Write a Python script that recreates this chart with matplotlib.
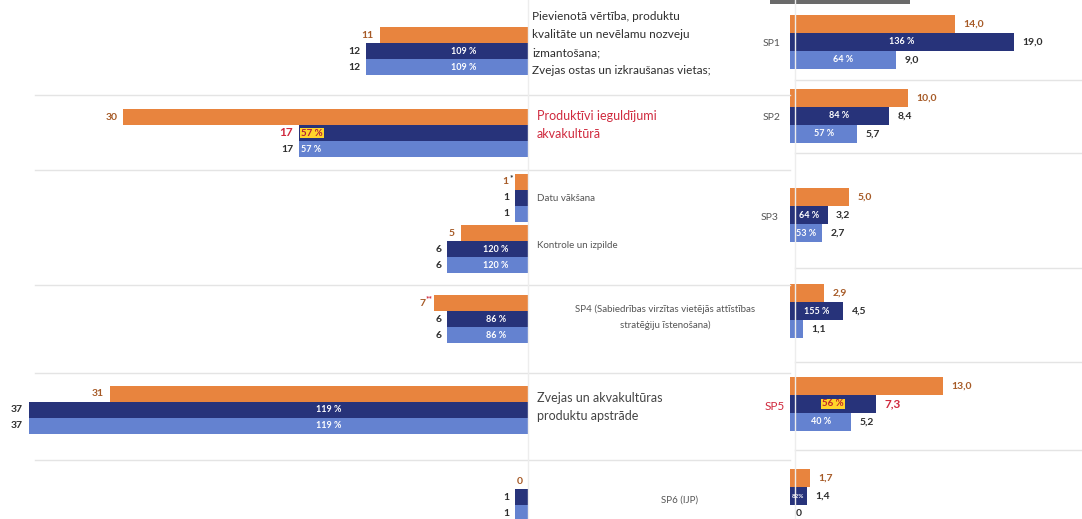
import matplotlib
matplotlib.use('Agg')
import matplotlib.pyplot as plt
from matplotlib.lines import Line2D
from matplotlib.patches import Rectangle

plt.rcParams['font.family'] = ['Lato', 'DejaVu Sans']

W, H = 1082, 519

# left panel (counts)
left_orange = [11, 30, 1, 5, 7, 31, 0]
left_dark = [12, 17, 1, 6, 6, 37, 1]
left_light = [12, 17, 1, 6, 6, 37, 1]
left_pct = ['109 %', '57 %', '', '120 %', '86 %', '119 %', '']
left_tag = ['', '', '*', '', '**', '', '']

# right panel (values)
right_groups = ['SP1', 'SP2', 'SP3', 'SP4', 'SP5', 'SP6']
right_orange = [14.0, 10.0, 5.0, 2.9, 13.0, 1.7]
right_dark = [19.0, 8.4, 3.2, 4.5, 7.3, 1.4]
right_light = [9.0, 5.7, 2.7, 1.1, 5.2, 0]
right_dark_pct = ['136 %', '84 %', '64 %', '155 %', '56 %', '82%']
right_light_pct = ['64 %', '57 %', '53 %', '', '40 %', '']

ORANGE = '#E8843E'
DARK = '#27337A'
LIGHT = '#6482D0'
OLAB = '#A65A26'
TXT = '#2E2E2E'
RED = '#D02A3E'
YEL = '#FFD42A'

# layout (pixel rows, from top)
left_y = [51, 133, 198, 249, 319, 410, 497]
right_y = [42, 116, 215, 311, 404, 496]
lh, rh = 16, 18

fig = plt.figure(figsize=(W / 100, H / 100), dpi=100)
fig.patch.set_facecolor('white')


def fx(x):
    return x / W


def fy(y):
    return 1 - y / H


# separators
for y in [95, 170, 285, 373, 460]:
    fig.add_artist(Line2D([fx(35), fx(790)], [fy(y), fy(y)], color='#E4E4E4', lw=1))
for y in [80, 153, 268, 362, 450]:
    fig.add_artist(Line2D([fx(795), fx(1082)], [fy(y), fy(y)], color='#E4E4E4', lw=1))
for x in [528, 795]:
    fig.add_artist(Line2D([fx(x), fx(x)], [0, 1], color='#EDEDED', lw=1))
fig.add_artist(Rectangle((fx(770), fy(4)), fx(140), 4 / H, color='#6A6A6A', lw=0))

axL = fig.add_axes([0, 0, 528 / W, 1])
axL.set_xlim(528 / 13.5, 0)
axL.set_ylim(H, 0)
axL.axis('off')

for i, y in enumerate(left_y):
    yo, yd, yl = y - lh, y, y + lh
    axL.barh(yo, left_orange[i], height=lh, color=ORANGE)
    axL.barh(yd, left_dark[i], height=lh, color=DARK)
    axL.barh(yl, left_light[i], height=lh, color=LIGHT)
    shift = {'': -4, '*': -4.5, '**': -6}[left_tag[i]]
    axL.annotate(str(left_orange[i]), (left_orange[i], yo), xytext=(shift, 0),
                 textcoords='offset points', ha='right', va='center',
                 fontsize=7.5, fontweight='bold', color=OLAB)
    if left_tag[i]:
        axL.annotate(left_tag[i], (left_orange[i], yo), xytext=(-1, 3),
                     textcoords='offset points', ha='right', va='center',
                     fontsize=6, fontweight='bold',
                     color=RED if left_tag[i] == '**' else TXT)
    axL.annotate(str(left_dark[i]), (left_dark[i], yd), xytext=(-4, 0),
                 textcoords='offset points', ha='right', va='center',
                 fontsize=7.5 if i != 1 else 8.5, fontweight='bold',
                 color=RED if i == 1 else TXT)
    axL.annotate(str(left_light[i]), (left_light[i], yl), xytext=(-4, 0),
                 textcoords='offset points', ha='right', va='center',
                 fontsize=7.5, fontweight='bold', color=TXT)
    if left_pct[i]:
        if i == 1:
            axL.annotate(left_pct[i], (left_dark[i], yd), xytext=(2, 0),
                         textcoords='offset points', ha='left', va='center',
                         fontsize=7, fontweight='bold', color='#B0203A',
                         bbox=dict(boxstyle='square,pad=0.1', fc=YEL, ec='none'))
            axL.annotate(left_pct[i], (left_light[i], yl), xytext=(2, 0),
                         textcoords='offset points', ha='left', va='center',
                         fontsize=6.5, fontweight='bold', color='white')
        else:
            axL.text(left_dark[i] * 0.4, yd, left_pct[i], ha='center', va='center',
                     fontsize=6.5, fontweight='bold', color='white')
            axL.text(left_light[i] * 0.4, yl, left_pct[i], ha='center', va='center',
                     fontsize=6.5, fontweight='bold', color='white')

axR = fig.add_axes([790 / W, 0, 292 / W, 1])
axR.set_xlim(0, 292 / 11.8)
axR.set_ylim(H, 0)
axR.axis('off')


def fmt(v):
    return '0' if v == 0 else f'{v:.1f}'.replace('.', ',')


for i, y in enumerate(right_y):
    yo, yd, yl = y - rh, y, y + rh
    axR.barh(yo, right_orange[i], height=rh, color=ORANGE)
    axR.barh(yd, right_dark[i], height=rh, color=DARK)
    axR.barh(yl, right_light[i], height=rh, color=LIGHT)
    axR.annotate(fmt(right_orange[i]), (right_orange[i], yo), xytext=(6, 0),
                 textcoords='offset points', ha='left', va='center',
                 fontsize=7.5, fontweight='bold', color=OLAB)
    axR.annotate(fmt(right_dark[i]), (right_dark[i], yd), xytext=(6, 0),
                 textcoords='offset points', ha='left', va='center',
                 fontsize=7.5 if i != 4 else 8.5, fontweight='bold',
                 color=RED if i == 4 else TXT)
    axR.annotate(fmt(right_light[i]), (right_light[i], yl), xytext=(6 if right_light[i] else 4, 0),
                 textcoords='offset points', ha='left', va='center',
                 fontsize=7.5, fontweight='bold', color=TXT)
    if i == 4:
        axR.text(right_dark[i] / 2, yd, right_dark_pct[i], ha='center', va='center',
                 fontsize=7, fontweight='bold', color='#C02828',
                 bbox=dict(boxstyle='square,pad=0.1', fc=YEL, ec='none'))
    else:
        axR.text(right_dark[i] / 2, yd, right_dark_pct[i], ha='center', va='center',
                 fontsize=6.5 if i != 5 else 4.5, fontweight='bold', color='white')
    if right_light_pct[i]:
        axR.text(right_light[i] / 2, yl, right_light_pct[i], ha='center', va='center',
                 fontsize=6.5, fontweight='bold', color='white')

# middle labels
mid = [
    (532, 17, 'Pievienotā vērtība, produktu', TXT, 8.5, 'left'),
    (532, 35, 'kvalitāte un nevēlamu nozveju', TXT, 8.5, 'left'),
    (532, 53, 'izmantošana;', TXT, 8.5, 'left'),
    (532, 71, 'Zvejas ostas un izkraušanas vietas;', TXT, 8.5, 'left'),
    (537, 116, 'Produktīvi ieguldījumi', RED, 9, 'left'),
    (537, 134, 'akvakultūrā', RED, 9, 'left'),
    (537, 199, 'Datu vākšana', '#555555', 7, 'left'),
    (537, 246, 'Kontrole un izpilde', '#555555', 7, 'left'),
    (665, 309, 'SP4 (Sabiedrības virzītas vietējās attīstības', '#555555', 7, 'center'),
    (665, 325, 'stratēģiju īstenošana)', '#555555', 7, 'center'),
    (537, 398, 'Zvejas un akvakultūras', '#444444', 9, 'left'),
    (537, 416, 'produktu apstrāde', '#444444', 9, 'left'),
    (680, 500, 'SP6 (IJP)', '#555555', 7, 'center'),
]
for x, y, s, c, fs, ha in mid:
    fig.text(fx(x), fy(y), s, color=c, fontsize=fs, ha=ha, va='center')

sp_x = [772, 772, 770, None, 775, None]
for i, g in enumerate(right_groups):
    if sp_x[i] is None:
        continue
    fig.text(fx(sp_x[i]), fy(right_y[i] + 2), g, ha='center', va='center',
             fontsize=8.5 if i == 4 else 7.5, color=RED if i == 4 else '#555555')

fig.savefig('out.png', dpi=100, facecolor='white')
